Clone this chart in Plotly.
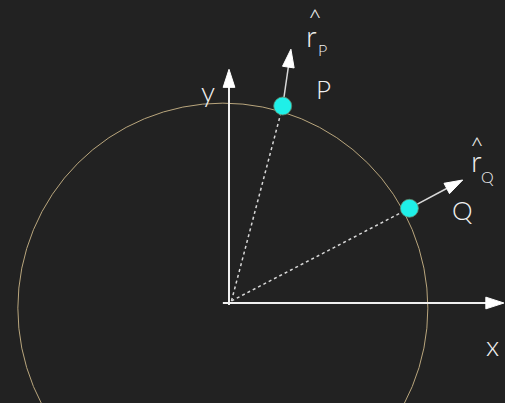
import plotly.graph_objects as go

# ---- data (unit circle coordinates, origin at axes crossing) ----
circle_center = [-0.03, -0.025]
circle_radius = [1.0]

origin_start = [0.012, 0.01]
point_names = ["P", "Q"]
point_x = [0.262, 0.880]
point_y = [0.961, 0.462]

# unit vector arrows: tail = point, tip
rhat_tip_x = [0.302, 1.140]
rhat_tip_y = [1.238, 0.600]

# coordinate axes (tail, tip)
xaxis_arrow_x = [-0.03, 1.341]
xaxis_arrow_y = [0.0, 0.0]
yaxis_arrow_x = [0.0, 0.0]
yaxis_arrow_y = [-0.01, 1.14]

axis_label_text = ["x", "y"]
axis_label_x = [1.283, -0.102]
axis_label_y = [-0.205, 1.035]

point_label_x = [0.463, 1.137]
point_label_y = [1.044, 0.454]

# hat labels: anchored at their top
hat_x = [0.420, 1.212]
hat_y = [1.478, 0.855]
r_x = [0.400, 1.205]
r_y = [1.305, 0.700]
sub_x = [0.454, 1.261]
sub_y = [1.238, 0.615]

BG = "#222222"
FG = "#f0f0f0"
FONT = "Lato"

fig = go.Figure()

# circle
cx, cy = circle_center
r = circle_radius[0]
fig.add_shape(type="circle", xref="x", yref="y",
              x0=cx - r, x1=cx + r, y0=cy - r, y1=cy + r,
              line=dict(color="#b9a67d", width=1), layer="below")

# dotted radius lines
for px, py in zip(point_x, point_y):
    fig.add_trace(go.Scatter(x=[origin_start[0], px], y=[origin_start[1], py],
                             mode="lines", line=dict(color="#d8d8d8", width=1.5, dash="dot"),
                             hoverinfo="skip", showlegend=False))

def arrow(xs, ys, size=19, width=2, color=FG):
    fig.add_trace(go.Scatter(x=xs, y=ys, mode="lines+markers",
                             line=dict(color=color, width=width),
                             marker=dict(symbol="arrow", size=[0, size], angleref="previous",
                                         color="#ffffff", opacity=1,
                                         line=dict(width=1, color="#ffffff")),
                             hoverinfo="skip", showlegend=False))

arrow(xaxis_arrow_x, xaxis_arrow_y)
arrow(yaxis_arrow_x, yaxis_arrow_y)
for px, py, tx, ty in zip(point_x, point_y, rhat_tip_x, rhat_tip_y):
    arrow([px, tx], [py, ty], width=1.5, color="#d8d8d8")

# points
fig.add_trace(go.Scatter(x=point_x, y=point_y, mode="markers",
                         marker=dict(size=18, color="#1ff0e8",
                                     line=dict(color="#5e8a6e", width=0.8)),
                         hoverinfo="skip", showlegend=False))

def label(x, y, text, size, yanchor="middle"):
    fig.add_annotation(x=x, y=y, text=text, showarrow=False, xanchor="center",
                       yanchor=yanchor, font=dict(family=FONT, size=size, color=FG, weight=300))

for t, x, y in zip(axis_label_text, axis_label_x, axis_label_y):
    label(x, y, t, 28)
for i, name in enumerate(point_names):
    label(point_label_x[i], point_label_y[i], name, 26)
    label(hat_x[i], hat_y[i], "^", 24, yanchor="top")
    label(r_x[i], r_y[i], "r", 30)
    label(sub_x[i], sub_y[i], name, 16)

fig.update_layout(
    width=505, height=403, autosize=False,
    margin=dict(l=0, r=0, t=0, b=0),
    paper_bgcolor=BG, plot_bgcolor=BG,
    xaxis=dict(range=[-229 / 205, 276 / 205], visible=False, fixedrange=True),
    yaxis=dict(range=[-100 / 205, 303 / 205], visible=False, fixedrange=True),
)

fig.write_html("out.html", config={"displayModeBar": False},
               post_script="document.body.style.margin='0';document.body.style.overflow='hidden';document.body.style.background='#222222';")
